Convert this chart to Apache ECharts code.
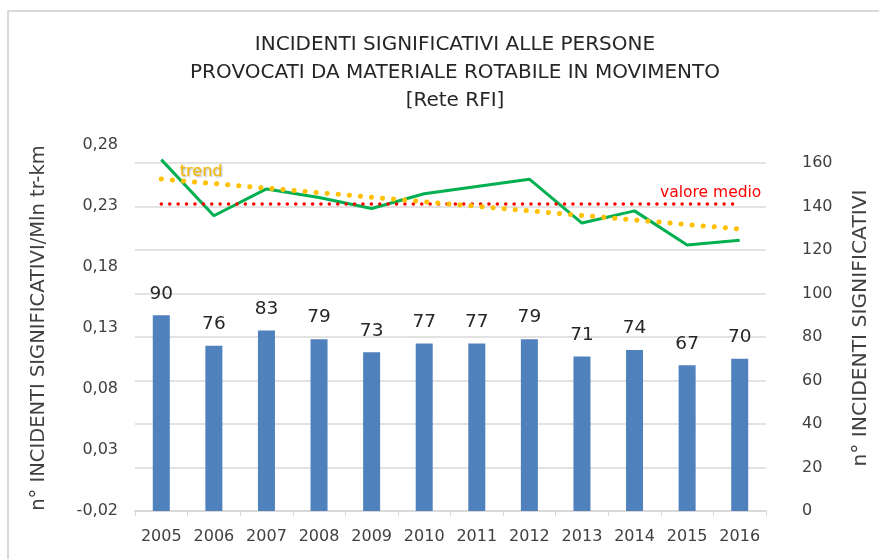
<!DOCTYPE html>
<html>
<head>
<meta charset="utf-8">
<script src="https://cdn.jsdelivr.net/npm/echarts@6/dist/echarts.min.js"></script>
<style>
  html, body { margin: 0; padding: 0; background: #fff; }
  #main { width: 879px; height: 559px; position: relative; }
  #frame {
    position: absolute; left: 7px; top: 10px; width: 900px; height: 600px;
    border: 2px solid #d9d9d9; pointer-events: none;
  }
</style>
</head>
<body>
<div id="main"></div>
<div id="frame"></div>
<script>
// dati
const years = ['2005', '2006', '2007', '2008', '2009', '2010', '2011', '2012', '2013', '2014', '2015', '2016'];
const incidentCounts = [90, 76, 83, 79, 73, 77, 77, 79, 71, 74, 67, 70];
const incidentRate = [0.268, 0.222, 0.244, 0.237, 0.228, 0.240, 0.246, 0.252, 0.216, 0.226, 0.198, 0.202];
// valore medio e trend: solo primo e ultimo punto, uniti
const meanRate = [0.2316, null, null, null, null, null, null, null, null, null, null, 0.2316];
const trendRate = [0.2521, null, null, null, null, null, null, null, null, null, null, 0.2111];

const FONT = 'DejaVu Sans';
const TXT = '#404040';

const chart = echarts.init(document.getElementById('main'));

// simbolo invisibile, serve solo a far comparire l'etichetta
const hiddenSymbol = { symbol: 'circle', symbolSize: 1, itemStyle: { color: 'rgba(0,0,0,0)' } };

const option = {
  animation: false,
  backgroundColor: '#fff',
  textStyle: { fontFamily: FONT },
  title: {
    text: 'INCIDENTI SIGNIFICATIVI ALLE PERSONE\nPROVOCATI DA MATERIALE ROTABILE IN MOVIMENTO\n[Rete RFI]',
    left: 450,
    top: 26,
    textAlign: 'center',
    textStyle: { fontFamily: FONT, fontSize: 20, fontWeight: 'normal', color: '#262626', lineHeight: 28 }
  },
  grid: { left: 135, right: 111, top: 145, bottom: 48 },
  xAxis: {
    type: 'category',
    data: years,
    axisLine: { onZero: false, lineStyle: { color: '#d9d9d9', width: 2 } },
    axisTick: { show: true, length: 5, lineStyle: { color: '#d9d9d9' } },
    axisLabel: { color: TXT, fontSize: 16, margin: 18, interval: 0, fontFamily: FONT }
  },
  yAxis: [
    {
      type: 'value',
      min: -0.02,
      max: 0.28,
      interval: 0.05,
      position: 'left',
      name: 'n° INCIDENTI SIGNIFICATIVI/Mln tr-km',
      nameLocation: 'middle',
      nameRotate: 90,
      nameGap: 86,
      nameTextStyle: { color: TXT, fontSize: 19.5, fontFamily: FONT },
      axisLine: { show: false },
      axisTick: { show: false },
      splitLine: { show: false },
      axisLabel: {
        color: TXT, fontSize: 16, margin: 17, fontFamily: FONT,
        formatter: v => v.toFixed(2).replace('.', ',')
      }
    },
    {
      type: 'value',
      min: 0,
      max: 160 * 366 / 348,
      interval: 20,
      position: 'right',
      name: 'n° INCIDENTI SIGNIFICATIVI',
      nameLocation: 'middle',
      nameRotate: 90,
      nameGap: 85,
      nameTextStyle: { color: TXT, fontSize: 20.3, fontFamily: FONT },
      axisLine: { show: false },
      axisTick: { show: false },
      splitLine: { show: true, showMaxLine: false, lineStyle: { color: '#d9d9d9', width: 1.5 } },
      axisLabel: {
        color: TXT, fontSize: 16, margin: 36, align: 'left', fontFamily: FONT, showMaxLabel: false,
        formatter: v => (v > 160.5 ? '' : String(Math.round(v)))
      }
    }
  ],
  series: [
    {
      name: 'n° incidenti',
      type: 'bar',
      yAxisIndex: 1,
      data: incidentCounts,
      barWidth: 17,
      itemStyle: { color: '#4f81bd' },
      label: { show: true, position: 'top', distance: 12, color: '#262626', fontSize: 18.5, fontFamily: FONT }
    },
    {
      name: 'incidenti/Mln tr-km',
      type: 'line',
      yAxisIndex: 0,
      data: incidentRate,
      symbol: 'none',
      lineStyle: { color: '#00b050', width: 3 },
      z: 3
    },
    {
      name: 'valore medio',
      type: 'line',
      yAxisIndex: 0,
      connectNulls: true,
      ...hiddenSymbol,
      data: meanRate.map((v, i) => i === meanRate.length - 1 ? {
        value: v,
        label: {
          show: true, formatter: 'valore medio', position: 'top', distance: 5, offset: [-29, 2],
          color: '#ff0000', fontSize: 15.5, fontFamily: FONT
        }
      } : v),
      lineStyle: { color: '#ff0000', width: 3.5, type: [0.1, 8.3], cap: 'round' },
      z: 4
    },
    {
      name: 'trend',
      type: 'line',
      yAxisIndex: 0,
      connectNulls: true,
      ...hiddenSymbol,
      data: trendRate.map((v, i) => i === 0 ? {
        value: v,
        label: {
          show: true, formatter: 'trend', position: 'right', distance: 5, offset: [13, -7],
          color: '#f5b800', fontSize: 16, fontFamily: FONT,
          textShadowColor: 'rgba(0,0,0,0.35)', textShadowBlur: 2, textShadowOffsetX: 1, textShadowOffsetY: 1
        }
      } : v),
      lineStyle: { color: '#ffc000', width: 5, type: [0.1, 11], cap: 'round' },
      z: 5
    }
  ]
};

chart.setOption(option);
window.addEventListener('resize', () => chart.resize());
</script>
</body>
</html>
